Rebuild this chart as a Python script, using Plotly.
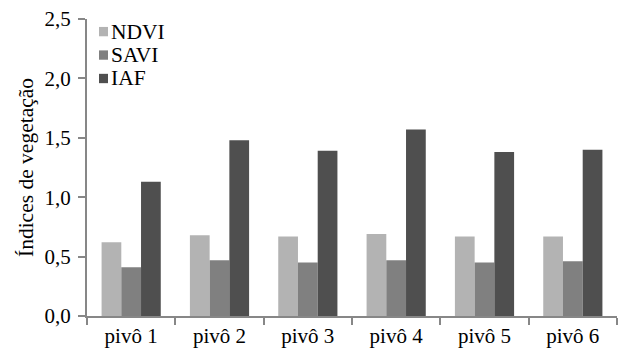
import plotly.graph_objects as go

# Vegetation indices per centre-pivot field
pivos = ["pivô 1", "pivô 2", "pivô 3", "pivô 4", "pivô 5", "pivô 6"]
ndvi = [0.62, 0.68, 0.67, 0.69, 0.67, 0.67]
savi = [0.41, 0.47, 0.45, 0.47, 0.45, 0.46]
iaf = [1.13, 1.48, 1.39, 1.57, 1.38, 1.40]

series = [
    ("NDVI", ndvi, "#b3b3b3"),
    ("SAVI", savi, "#808080"),
    ("IAF", iaf, "#4f4f4f"),
]

FONT = "Liberation Serif"
AXIS = "#878787"
W, H = 624, 356
ML, MR, MT, MB = 87, 7, 17, 40
PW, PH = W - ML - MR, H - MT - MB

fig = go.Figure()
for name, vals, color in series:
    fig.add_trace(go.Bar(
        name=name, x=pivos, y=vals,
        marker=dict(color=color, line=dict(width=0)),
        showlegend=False,
    ))

# Compact legend in the upper-left corner: small swatch followed by the name
def px_to_paper(px, py):
    return (px - ML) / PW, (H - MB - py) / PH

shapes, annotations = [], []
for i, (name, _, color) in enumerate(series):
    cy = 29.7 + i * 23.6
    x0, y0 = px_to_paper(99, cy + 4.7)
    x1, y1 = px_to_paper(108, cy - 4.7)
    shapes.append(dict(type="rect", xref="paper", yref="paper",
                       x0=x0, y0=y0, x1=x1, y1=y1,
                       fillcolor=color, line=dict(width=0)))
    tx, ty = px_to_paper(109, cy)
    annotations.append(dict(xref="paper", yref="paper", x=tx, y=ty,
                            xanchor="left", yanchor="middle", showarrow=False,
                            text=name, font=dict(family=FONT, size=21.5, color="black")))

fig.update_layout(
    width=W, height=H,
    margin=dict(l=ML, r=MR, t=MT, b=MB),
    paper_bgcolor="white", plot_bgcolor="white",
    barmode="group", bargap=0.33, bargroupgap=0,
    separators=", ",
    font=dict(family=FONT, size=21, color="black"),
    shapes=shapes, annotations=annotations,
)

fig.update_xaxes(
    type="category", range=[-0.5, 5.5],
    showline=True, linecolor=AXIS, linewidth=2,
    ticks="outside", tickson="boundaries", ticklen=7,
    tickcolor=AXIS, tickwidth=2,
    showgrid=False, zeroline=False,
    tickfont=dict(family=FONT, size=21),
)
fig.update_yaxes(
    range=[0, 2.5], dtick=0.5, tick0=0, tickformat=".1f",
    showline=True, linecolor=AXIS, linewidth=2,
    ticks="outside", ticklen=7, tickcolor=AXIS, tickwidth=2,
    ticklabelstandoff=3,
    showgrid=False, zeroline=False,
    tickfont=dict(family=FONT, size=21),
    title=dict(text="Índices de vegetação", font=dict(family=FONT, size=21.5), standoff=5),
)

fig.write_html("out.html")
